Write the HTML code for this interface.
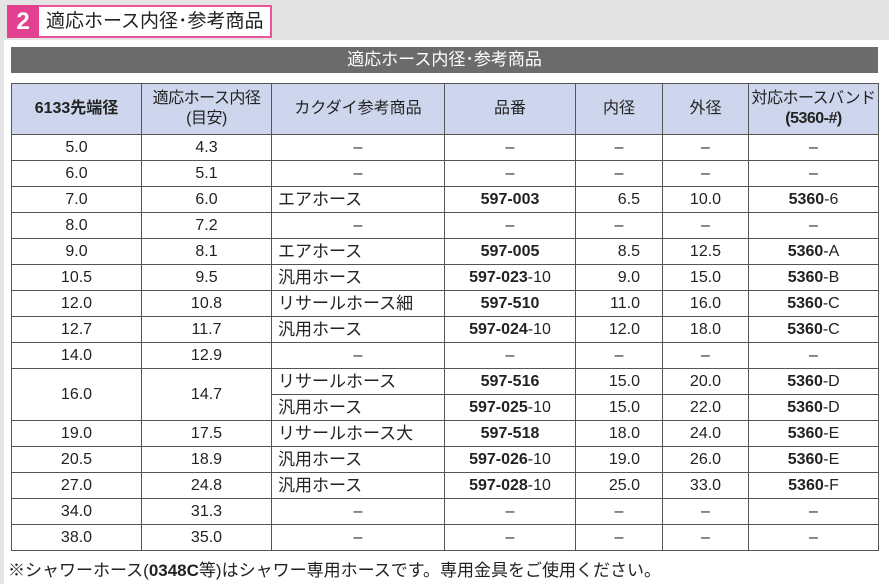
<!DOCTYPE html>
<html><head><meta charset="utf-8"><style>
*{margin:0;padding:0;box-sizing:border-box}
body{width:889px;height:584px;background:#fff;position:relative;overflow:hidden;font-family:"Liberation Sans","Noto Sans CJK JP",sans-serif;color:#222}
#topbar{position:absolute;left:0;top:0;width:889px;height:40px;background:#e4e4e4}
#leftbar{position:absolute;left:0;top:0;width:4px;height:584px;background:#e4e4e4}
#num{position:absolute;left:7px;top:5px;width:32px;height:33px;background:#e2418f;color:#fff;font-weight:bold;font-size:24px;text-align:center;line-height:33px}
#ttl{position:absolute;left:39px;top:5px;width:233px;height:33px;background:#fff;border-top:2px solid #e8559c;border-right:2px solid #e8559c;border-bottom:2px solid #e8559c;font-size:19px;line-height:29px;padding-left:7px}
#band{position:absolute;left:11px;top:47px;width:867px;height:26px;background:#6b6b6b;color:#fff;font-size:17px;text-align:center;line-height:26px}
table{position:absolute;left:11px;top:83px;border-collapse:collapse;table-layout:fixed;font-size:16px}
td,th{border:1.3px solid #555;height:26px;max-height:26px;text-align:center;padding:0;line-height:18px;white-space:nowrap;overflow:hidden}
th{background:#cdd6ec;font-weight:normal;height:51px;font-size:16px;line-height:20px}
th.n{letter-spacing:-0.5px}
td.l{text-align:left;padding-left:6px;font-size:17px}
td.r{text-align:right;padding-right:22px}
b{font-weight:bold}
#note{position:absolute;left:8px;top:556px;font-size:17px;white-space:nowrap}
</style></head><body>
<div id="topbar"></div>
<div id="leftbar"></div>
<div id="num">2</div>
<div id="ttl">適応ホース内径･参考商品</div>
<div id="band">適応ホース内径･参考商品</div>
<table>
<colgroup><col style="width:130px"><col style="width:130px"><col style="width:173px"><col style="width:131px"><col style="width:87px"><col style="width:86px"><col style="width:130px"></colgroup>
<tr><th><b>6133先端径</b></th><th class="n">適応ホース内径<br>(目安)</th><th>カクダイ参考商品</th><th>品番</th><th>内径</th><th>外径</th><th class="n">対応ホースバンド<br><b>(5360-#)</b></th></tr>
<tr><td>5.0</td><td>4.3</td><td>–</td><td>–</td><td>–</td><td>–</td><td>–</td></tr>
<tr><td>6.0</td><td>5.1</td><td>–</td><td>–</td><td>–</td><td>–</td><td>–</td></tr>
<tr><td>7.0</td><td>6.0</td><td class="l">エアホース</td><td><b>597-003</b></td><td class="r">6.5</td><td>10.0</td><td><b>5360</b>-6</td></tr>
<tr><td>8.0</td><td>7.2</td><td>–</td><td>–</td><td>–</td><td>–</td><td>–</td></tr>
<tr><td>9.0</td><td>8.1</td><td class="l">エアホース</td><td><b>597-005</b></td><td class="r">8.5</td><td>12.5</td><td><b>5360</b>-A</td></tr>
<tr><td>10.5</td><td>9.5</td><td class="l">汎用ホース</td><td><b>597-023</b>-10</td><td class="r">9.0</td><td>15.0</td><td><b>5360</b>-B</td></tr>
<tr><td>12.0</td><td>10.8</td><td class="l">リサールホース細</td><td><b>597-510</b></td><td class="r">11.0</td><td>16.0</td><td><b>5360</b>-C</td></tr>
<tr><td>12.7</td><td>11.7</td><td class="l">汎用ホース</td><td><b>597-024</b>-10</td><td class="r">12.0</td><td>18.0</td><td><b>5360</b>-C</td></tr>
<tr><td>14.0</td><td>12.9</td><td>–</td><td>–</td><td>–</td><td>–</td><td>–</td></tr>
<tr><td rowspan="2">16.0</td><td rowspan="2">14.7</td><td class="l">リサールホース</td><td><b>597-516</b></td><td class="r">15.0</td><td>20.0</td><td><b>5360</b>-D</td></tr>
<tr><td class="l">汎用ホース</td><td><b>597-025</b>-10</td><td class="r">15.0</td><td>22.0</td><td><b>5360</b>-D</td></tr>
<tr><td>19.0</td><td>17.5</td><td class="l">リサールホース大</td><td><b>597-518</b></td><td class="r">18.0</td><td>24.0</td><td><b>5360</b>-E</td></tr>
<tr><td>20.5</td><td>18.9</td><td class="l">汎用ホース</td><td><b>597-026</b>-10</td><td class="r">19.0</td><td>26.0</td><td><b>5360</b>-E</td></tr>
<tr><td>27.0</td><td>24.8</td><td class="l">汎用ホース</td><td><b>597-028</b>-10</td><td class="r">25.0</td><td>33.0</td><td><b>5360</b>-F</td></tr>
<tr><td>34.0</td><td>31.3</td><td>–</td><td>–</td><td>–</td><td>–</td><td>–</td></tr>
<tr><td>38.0</td><td>35.0</td><td>–</td><td>–</td><td>–</td><td>–</td><td>–</td></tr>
</table>
<div id="note">※シャワーホース(<b>0348C</b>等)はシャワー専用ホースです。専用金具をご使用ください。</div>
</body></html>
